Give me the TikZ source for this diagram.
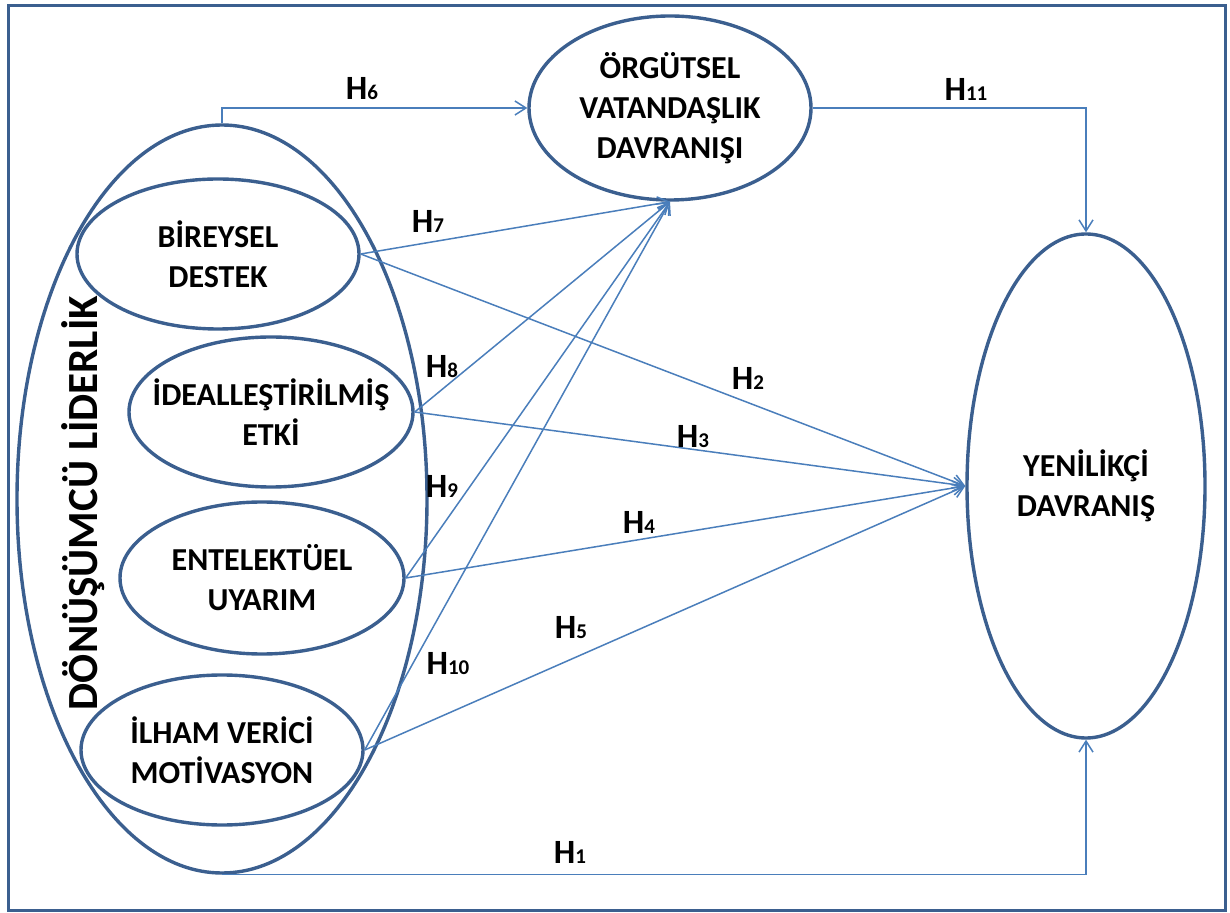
\documentclass[tikz,border=0pt]{standalone}
\usepackage{fontspec}
\setmainfont{Carlito}
\usetikzlibrary{positioning}
\usetikzlibrary{shapes.geometric,arrows.meta}
\definecolor{rimblue}{HTML}{3B5F8F}
\definecolor{linkblue}{HTML}{4A7EBB}
\newcommand{\hlab}[1]{H{\fontsize{10.5}{12}\selectfont #1}}
\tikzset{construct/.style={ellipse,draw=rimblue,line width=1.7pt,inner
    sep=0pt,label={[align=center,font=\fontsize{16}{20}\selectfont\bfseries]center:#1}},
    bluearrow/.style={->, linkblue, line width=0.75pt,
    fill=none,>={Straight Barb[length=5.5pt,width=7pt]}},
    hyp/.style={inner sep=0pt,font=\fontsize{17}{20}\selectfont\bfseries}}

\begin{document}
\begin{tikzpicture}[x=0.5pt,y=-0.5pt]
        \useasboundingbox (0,0) rectangle (1230,913);
        \draw[rimblue,line width=1.5pt] (8,6) rectangle (1225,910);
        % transformational leadership and its four dimensions
        \node[construct={},minimum width=205pt,minimum height=374pt] (lead) at (222,499) {};
        \node[rotate=90,font=\fontsize{21.5}{24}\selectfont\bfseries] (leadtext) at (83,503) {DÖNÜŞÜMCÜ LİDERLİK};
        \node[construct={BİREYSEL\\DESTEK},minimum width=141pt,minimum height=75pt] (bd) at (218,254) {};
        \node[construct={İDEALLEŞTİRİLMİŞ\\ETKİ},minimum width=142pt,minimum height=75pt] (ie) at (271,412) {};
        \node[construct={ENTELEKTÜEL\\UYARIM},minimum width=142pt,minimum height=76pt] (eu) at (262,578) {};
        \node[construct={İLHAM VERİCİ\\MOTİVASYON},minimum width=141pt,minimum height=75pt] (ivm) at (222,750) {};
        % outcomes
        \node[construct={ÖRGÜTSEL\\VATANDAŞLIK\\DAVRANIŞI},minimum width=141pt,minimum height=92pt] (ovd) at (670,108) {};
        \node[construct={YENİLİKÇİ\\DAVRANIŞ},minimum width=119pt,minimum height=252pt] (yd) at (1086,486) {};
        % hypotheses
        \draw[bluearrow](lead.north)|-(ovd.west);
        \draw[bluearrow](ovd.east)-|(yd.north);
        \draw[bluearrow](lead.south)-|(yd.south);
        \draw[bluearrow](bd.east)--(ovd.south);\draw[bluearrow](bd.east)--(yd.west);
        \draw[bluearrow](ie.east)--(ovd.south);\draw[bluearrow](ie.east)--(yd.west);
        \draw[bluearrow](eu.east)--(ovd.south);\draw[bluearrow](eu.east)--(yd.west);
        \draw[bluearrow](ivm.east)--(ovd.south);\draw[bluearrow](ivm.east)--(yd.west);
        \node[hyp] (h1) at (570,852) {\hlab{1}};
        \node[hyp] (h2) at (748,378) {\hlab{2}};
        \node[hyp] (h3) at (693,437) {\hlab{3}};
        \node[hyp] (h4) at (639,522) {\hlab{4}};
        \node[hyp] (h5) at (571,628) {\hlab{5}};
        \node[hyp] (h6) at (362,89) {\hlab{6}};
        \node[hyp] (h7) at (428,221) {\hlab{7}};
        \node[hyp] (h8) at (442,367) {\hlab{8}};
        \node[hyp] (h9) at (442,486) {\hlab{9}};
        \node[hyp] (h10) at (448,664) {\hlab{10}};
        \node[hyp] (h11) at (966,89) {\hlab{11}};
\end{tikzpicture}
\end{document}
